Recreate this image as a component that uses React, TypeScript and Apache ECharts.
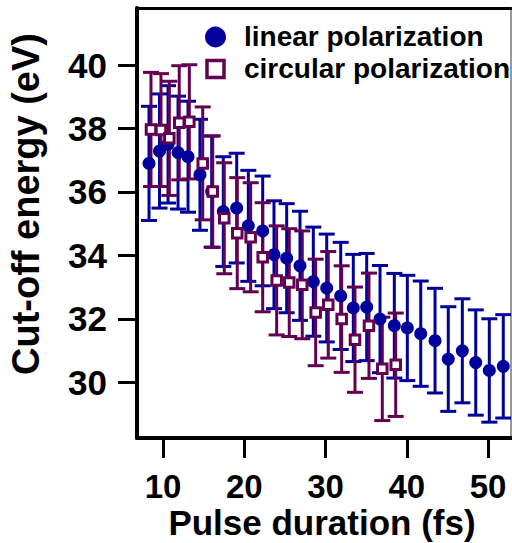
import React, { useEffect, useRef } from "react";
import * as echarts from "echarts";

// ---- data ----
const seriesNames = ["linear polarization", "circular polarization"];

const linearX = [8.28, 9.57, 10.62, 11.85, 13.08, 14.55, 15.99, 17.42, 19.07, 20.5, 22.27, 23.66, 25.22, 26.86, 28.5, 30.15, 31.87, 33.42, 35.07, 36.71, 38.47, 40.07, 41.72, 43.48, 45.11, 46.84, 48.49, 50.16, 51.88];
const linearY = [36.9, 37.29, 37.5, 37.24, 37.11, 36.54, 36.01, 35.38, 35.49, 34.93, 34.77, 34.02, 33.91, 33.67, 33.17, 32.97, 32.72, 32.34, 32.37, 31.99, 31.78, 31.71, 31.53, 31.31, 30.73, 30.99, 30.62, 30.37, 30.5];
const linearErr = [1.8, 1.8, 1.85, 1.78, 1.75, 1.75, 1.75, 1.73, 1.73, 1.75, 1.73, 1.7, 1.72, 1.72, 1.72, 1.7, 1.69, 1.69, 1.69, 1.69, 1.65, 1.66, 1.66, 1.65, 1.65, 1.64, 1.66, 1.63, 1.63];

const circularX = [8.52, 9.75, 10.78, 12.0, 13.24, 14.89, 16.12, 17.54, 19.14, 20.79, 22.27, 23.99, 25.54, 27.14, 28.79, 30.34, 31.99, 33.63, 35.35, 36.99, 38.64];
const circularY = [37.97, 37.95, 37.69, 38.18, 38.21, 36.9, 36.01, 35.17, 34.7, 34.57, 33.94, 33.21, 33.14, 33.07, 32.2, 32.44, 31.99, 31.34, 31.78, 30.42, 30.55];
const circularErr = [1.8, 1.78, 1.8, 1.8, 1.8, 1.78, 1.76, 1.75, 1.75, 1.72, 1.72, 1.72, 1.7, 1.7, 1.68, 1.68, 1.68, 1.66, 1.66, 1.63, 1.63];

const xTicks = [10, 20, 30, 40, 50];
const yTicks = [30, 32, 34, 36, 38, 40];

const xTitle = "Pulse duration (fs)";
const yTitle = "Cut-off energy (eV)";

const BLUE = "#00009c";
const PURPLE = "#620052";
const FONT = "'Liberation Sans', Arial, sans-serif";

function errorBarSeries(xs: number[], ys: number[], es: number[], color: string) {
  return {
    type: "custom",
    clip: true,
    z: 2,
    data: xs.map((x, i) => [x, ys[i], es[i]]),
    renderItem: (params: any, api: any) => {
      const x = api.value(0);
      const y = api.value(1);
      const e = api.value(2);
      const top = api.coord([x, y + e]);
      const bot = api.coord([x, y - e]);
      const hw = 8;
      const style = { stroke: color, lineWidth: 3 };
      return {
        type: "group",
        children: [
          { type: "line", shape: { x1: top[0], y1: top[1], x2: bot[0], y2: bot[1] }, style },
          { type: "line", shape: { x1: top[0] - hw, y1: top[1], x2: top[0] + hw, y2: top[1] }, style },
          { type: "line", shape: { x1: bot[0] - hw, y1: bot[1], x2: bot[0] + hw, y2: bot[1] }, style },
        ],
      };
    },
  };
}

export default function App() {
  const ref = useRef<HTMLDivElement>(null);
  useEffect(() => {
    if (!ref.current) return;
    const chart = echarts.init(ref.current, undefined, { renderer: "svg" });
    const labelStyle = { color: "#000", fontFamily: FONT, fontWeight: "bold" as const, fontSize: 35 };
    chart.setOption({
      animation: false,
      backgroundColor: "#fff",
      grid: { left: 137, right: 1, top: 8, bottom: 105, show: true, borderColor: "#333", borderWidth: 1 },
      xAxis: [
        {
          type: "value",
          min: 6.8,
          max: 52.83,
          position: "bottom",
          axisLine: { show: true, lineStyle: { color: "#000", width: 4 } },
          axisTick: { show: true, inside: false, length: 20, lineStyle: { color: "#000", width: 3 }, customValues: xTicks },
          axisLabel: { ...labelStyle, fontSize: 33, margin: 32, customValues: xTicks },
          splitLine: { show: false },
        },
        {
          type: "value",
          min: 6.8,
          max: 52.83,
          position: "top",
          axisLine: { show: true, lineStyle: { color: "#000", width: 3 } },
          axisTick: { show: false },
          axisLabel: { show: false },
          splitLine: { show: false },
        },
      ],
      yAxis: [
        {
          type: "value",
          min: 28.24,
          max: 41.8,
          position: "left",
          axisLine: { show: true, lineStyle: { color: "#000", width: 4 } },
          axisTick: { show: true, inside: false, length: 19, lineStyle: { color: "#000", width: 3 }, customValues: yTicks },
          axisLabel: { ...labelStyle, margin: 30, customValues: yTicks },
          splitLine: { show: false },
        },
      ],
      graphic: [
        { type: "circle", shape: { cx: 215.5, cy: 37, r: 10.5 }, style: { fill: BLUE } },
        { type: "rect", shape: { x: 207, y: 60.5, width: 17, height: 17 }, style: { fill: "#fff", stroke: PURPLE, lineWidth: 3.5 } },
        { type: "text", x: 244, y: 36, style: { text: seriesNames[0], fill: "#000", font: `bold 28px ${FONT}`, textAlign: "left", textVerticalAlign: "middle" } },
        { type: "text", x: 244, y: 68.5, style: { text: seriesNames[1], fill: "#000", font: `bold 28px ${FONT}`, textAlign: "left", textVerticalAlign: "middle" } },
        { type: "text", x: 322, y: 522, style: { text: xTitle, fill: "#000", font: `bold 35px ${FONT}`, textAlign: "center", textVerticalAlign: "middle" } },
        { type: "text", x: 26, y: 204, rotation: Math.PI / 2, style: { text: yTitle, fill: "#000", font: `bold 38px ${FONT}`, textAlign: "center", textVerticalAlign: "middle" } },
      ],
      series: [
        errorBarSeries(linearX, linearY, linearErr, BLUE),
        errorBarSeries(circularX, circularY, circularErr, PURPLE),
        {
          name: seriesNames[0],
          type: "scatter",
          z: 3,
          symbol: "circle",
          symbolSize: 13,
          itemStyle: { color: BLUE, opacity: 1 },
          data: linearX.map((x, i) => [x, linearY[i]]),
        },
        {
          name: seriesNames[1],
          type: "scatter",
          z: 4,
          symbol: "rect",
          symbolSize: 9.5,
          itemStyle: { color: "#fff", borderColor: PURPLE, borderWidth: 3, opacity: 1 },
          data: circularX.map((x, i) => [x, circularY[i]]),
        },
      ],
    });
    return () => chart.dispose();
  }, []);
  return <div ref={ref} style={{ width: 512, height: 543, position: "absolute", left: 0, top: 0 }} />;
}
